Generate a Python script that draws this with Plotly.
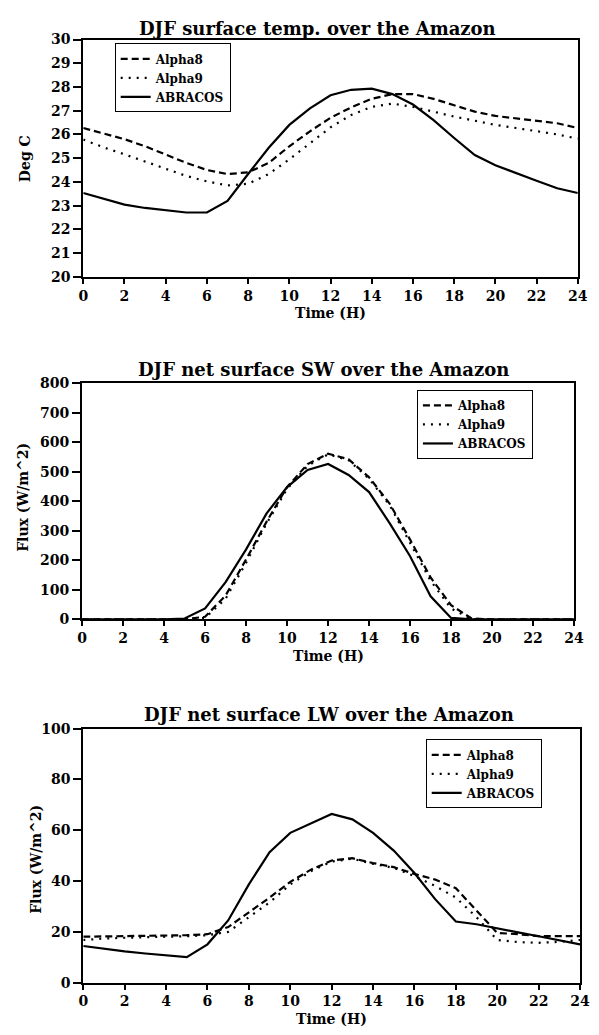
import plotly.graph_objects as go

# ---------------- data ----------------
hours = list(range(0, 25))
x_ticks = list(range(0, 25, 2))

temp_alpha8 = [26.27, 26.05, 25.80, 25.50, 25.16, 24.80, 24.50, 24.33, 24.40, 24.80, 25.50, 26.13,
               26.70, 27.14, 27.50, 27.70, 27.70, 27.50, 27.23, 26.96, 26.78, 26.68, 26.57, 26.47, 26.27]
temp_alpha9 = [25.78, 25.45, 25.16, 24.85, 24.54, 24.25, 24.02, 23.85, 23.92, 24.33, 24.95, 25.64,
               26.30, 26.82, 27.16, 27.30, 27.16, 26.96, 26.75, 26.58, 26.40, 26.27, 26.13, 26.00, 25.82]
temp_abracos = [23.53, 23.27, 23.04, 22.90, 22.80, 22.71, 22.71, 23.20, 24.33, 25.44, 26.40, 27.10,
                27.65, 27.88, 27.93, 27.70, 27.26, 26.60, 25.85, 25.13, 24.70, 24.36, 24.05, 23.73, 23.53]

sw_alpha8 = [0, 0, 0, 0, 0, 0, 9, 81, 203, 331, 448, 526, 561, 542, 481, 392, 270, 142, 48, 3, 0, 0, 0, 0, 0]
sw_alpha9 = [0, 0, 0, 0, 0, 0, 5, 70, 192, 325, 442, 520, 559, 539, 476, 387, 259, 131, 37, 1, 0, 0, 0, 0, 0]
sw_abracos = [0, 0, 0, 0, 0, 3, 37, 126, 237, 359, 448, 506, 526, 489, 431, 326, 214, 78, 5, 0, 0, 0, 0, 0, 0]

lw_alpha8 = [18.1, 18.2, 18.3, 18.4, 18.5, 18.7, 19.1, 21.9, 27.7, 33.5, 39.7, 44.5, 48.1, 49.0, 47.1,
             45.5, 42.8, 40.6, 37.2, 28.4, 19.6, 19.1, 18.3, 18.3, 18.3]
lw_alpha9 = [16.8, 17.4, 17.7, 17.8, 18.1, 18.3, 18.7, 20.0, 25.8, 31.6, 38.7, 43.9, 47.7, 48.8, 46.8,
             45.2, 41.9, 38.1, 33.5, 25.8, 16.8, 16.0, 15.7, 16.1, 16.8]
lw_abracos = [14.45, 13.3, 12.3, 11.5, 10.7, 10.06, 15.1, 24.5, 38.7, 51.4, 59.0, 62.6, 66.45, 64.3, 59.0,
              52.0, 43.2, 32.9, 24.1, 23.0, 21.3, 19.8, 18.3, 16.7, 15.1]

temp_ticks = list(range(20, 31, 1))
sw_ticks = list(range(0, 801, 100))
lw_ticks = list(range(0, 101, 20))

series_names = ["Alpha8", "Alpha9", "ABRACOS"]
titles = ["DJF surface temp. over the Amazon",
          "DJF net surface SW over the Amazon",
          "DJF net surface LW over the Amazon"]
y_titles = ["Deg C", "Flux (W/m^2)", "Flux (W/m^2)"]
x_title = "Time (H)"

# ---------------- style ----------------
FONT = "DejaVu Serif"
W, H = 599, 1035
dashes = ["7px,4px", "2px,6px", "solid"]

panels = [
    dict(data=[temp_alpha8, temp_alpha9, temp_abracos], yr=[20, 30], yt=temp_ticks,
         xd=[80.3, 587.5], yd=[32, 273], leg=(172, 71), ttl=(321, 21), ylab=(20, 153), xlab=310),
    dict(data=[sw_alpha8, sw_alpha9, sw_abracos], yr=[0, 800], yt=sw_ticks,
         xd=[79.1, 583.7], yd=[381, 621], leg=(482, 423), ttl=(327, 367), ylab=(19, 497), xlab=658),
    dict(data=[lw_alpha8, lw_alpha9, lw_abracos], yr=[0, 100], yt=lw_ticks,
         xd=[80.3, 589.8], yd=[732, 990], leg=(491, 778), ttl=(332, 718), ylab=(31, 865), xlab=1027),
]

fig = go.Figure()
annotations = []
layout = {}

def font(size):
    return dict(family=FONT, size=size, color="black", weight="bold")

def bold(vals):
    return ["<b>%d</b>" % v for v in vals]

for i, p in enumerate(panels):
    n = "" if i == 0 else str(i + 1)
    lg = "legend" + n
    for name, vals, d in zip(series_names, p["data"], dashes):
        fig.add_trace(go.Scatter(x=hours, y=vals, name="<b>%s</b>" % name, mode="lines",
                                 line=dict(color="black", width=2.2, dash=d),
                                 xaxis="x" + n, yaxis="y" + n, legend=lg))
    axis_common = dict(showline=True, linewidth=2, linecolor="black", mirror=True,
                       ticks="outside", tickwidth=2, tickcolor="black",
                       showgrid=False, zeroline=False, tickfont=font(14))
    layout["xaxis" + n] = dict(axis_common, domain=[p["xd"][0] / W, p["xd"][1] / W],
                               range=[0, 24], tickmode="array", tickvals=x_ticks,
                               ticktext=bold(x_ticks), ticklen=5, anchor="y" + n)
    layout["yaxis" + n] = dict(axis_common, domain=[1 - p["yd"][1] / H, 1 - p["yd"][0] / H],
                               range=p["yr"], tickmode="array", tickvals=p["yt"],
                               ticktext=bold(p["yt"]), ticklen=8, anchor="x" + n)
    layout[lg] = dict(x=p["leg"][0] / W, y=1 - p["leg"][1] / H, xanchor="center", yanchor="middle",
                      bordercolor="black", borderwidth=1, bgcolor="white", font=font(12))
    annotations.append(dict(text="<b>%s</b>" % titles[i], x=p["ttl"][0] / W, y=1 - p["ttl"][1] / H,
                            xref="paper", yref="paper", showarrow=False,
                            xanchor="center", yanchor="middle", font=font(18)))
    annotations.append(dict(text="<b>%s</b>" % y_titles[i], x=p["ylab"][0] / W, y=1 - p["ylab"][1] / H,
                            xref="paper", yref="paper", showarrow=False, textangle=-90,
                            xanchor="center", yanchor="middle", font=font(14)))
    annotations.append(dict(text="<b>%s</b>" % x_title, x=(p["xd"][0] + p["xd"][1]) / 2 / W,
                            y=1 - p["xlab"] / H, xref="paper", yref="paper", showarrow=False,
                            xanchor="center", yanchor="middle", font=font(14)))

fig.update_layout(**layout)
fig.update_layout(width=W, height=H, margin=dict(l=0, r=0, t=0, b=0),
                  paper_bgcolor="white", plot_bgcolor="white",
                  annotations=annotations, showlegend=True)

fig.write_html("out.html")
